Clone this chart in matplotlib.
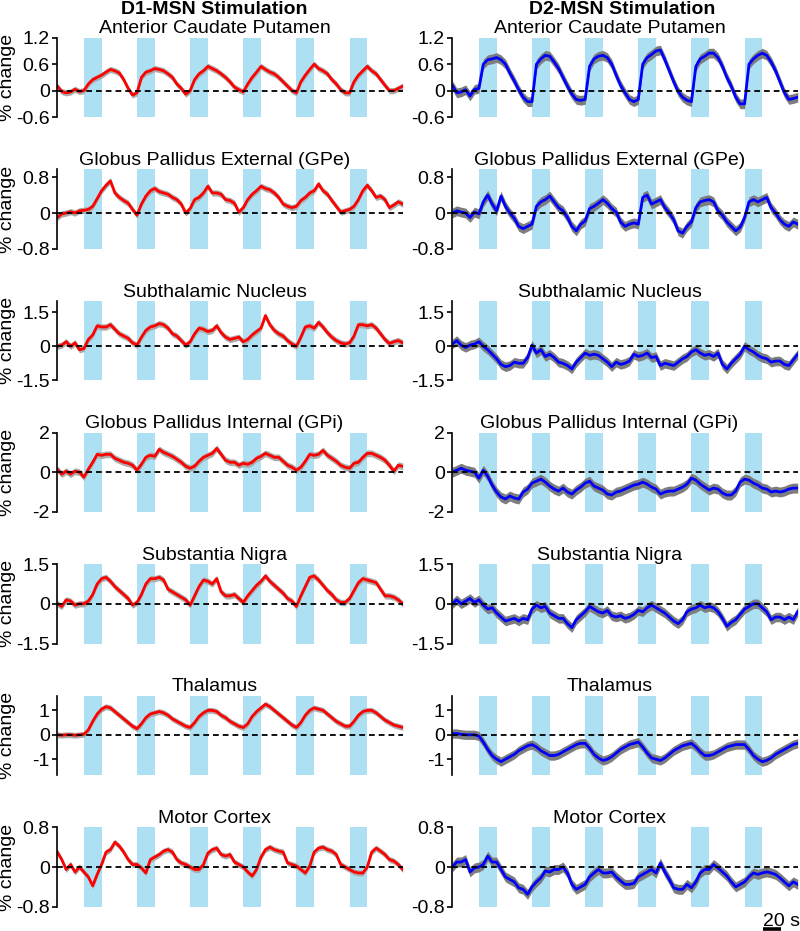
import numpy as np
import matplotlib
matplotlib.use('Agg')
import matplotlib.pyplot as plt
import matplotlib.transforms as mtransforms

plt.rcParams['font.family'] = ['Liberation Sans', 'DejaVu Sans']
plt.rcParams['axes.unicode_minus'] = False

# time axis in seconds, one value every 5 s
time = list(range(-30, 365, 5))
stimOnsets = [0, 60, 120, 180, 240, 300]
stimLength = 20

regions = ['Anterior Caudate Putamen', 'Globus Pallidus External (GPe)', 'Subthalamic Nucleus',
           'Globus Pallidus Internal (GPi)', 'Substantia Nigra', 'Thalamus', 'Motor Cortex']
yTicks = [[-0.6, 0, 0.6, 1.2], [-0.8, 0, 0.8], [-1.5, 0, 1.5], [-2, 0, 2],
          [-1.5, 0, 1.5], [-1, 0, 1], [-0.8, 0, 0.8]]
yTickLabels = [['-0.6', '0', '0.6', '1.2'], ['-0.8', '0', '0.8'], ['-1.5', '0', '1.5'], ['-2', '0', '2'],
               ['-1.5', '0', '1.5'], ['-1', '0', '1'], ['-0.8', '0', '0.8']]
yLimits = [(-0.6, 1.2), (-0.8, 0.98), (-1.5, 2.0), (-2, 2), (-1.5, 1.5), (-1.65, 1.6), (-0.8, 0.8)]

d1Acp = [0.1, -0.02, -0.05, -0.03, 0.03, -0.02, 0.0, 0.15, 0.25, 0.3,
         0.35, 0.42, 0.48, 0.45, 0.4, 0.25, 0.05, -0.1, -0.05, 0.3,
         0.42, 0.45, 0.5, 0.48, 0.45, 0.38, 0.3, 0.15, 0.05, -0.08,
         0.0, 0.25, 0.38, 0.45, 0.55, 0.5, 0.45, 0.38, 0.3, 0.2,
         0.08, 0.02, -0.03, 0.15, 0.3, 0.42, 0.55, 0.48, 0.42, 0.38,
         0.3, 0.2, 0.1, 0.0, -0.05, 0.2, 0.35, 0.48, 0.6, 0.5,
         0.45, 0.38, 0.25, 0.15, 0.02, -0.05, -0.05, 0.2, 0.35, 0.45,
         0.55, 0.45, 0.38, 0.25, 0.12, 0.0, 0.0, 0.05, 0.1]
d2Acp = [0.12, -0.05, -0.03, 0.02, -0.12, 0.03, 0.05, 0.6, 0.7, 0.72,
         0.75, 0.7, 0.6, 0.4, 0.22, 0.02, -0.15, -0.25, -0.25, 0.6,
         0.72, 0.8, 0.78, 0.65, 0.5, 0.3, 0.1, -0.08, -0.2, -0.22,
         -0.2, 0.55, 0.72, 0.78, 0.8, 0.75, 0.6, 0.35, 0.12, -0.05,
         -0.2, -0.25, -0.2, 0.6, 0.75, 0.82, 0.9, 0.92, 0.7, 0.45,
         0.2, -0.02, -0.15, -0.22, -0.25, 0.55, 0.72, 0.78, 0.85, 0.85,
         0.75, 0.55, 0.3, 0.1, -0.15, -0.3, -0.3, 0.6, 0.72, 0.8,
         0.85, 0.8, 0.65, 0.45, 0.2, -0.05, -0.2, -0.18, -0.15]
d1Gpe = [-0.1, -0.02, 0.0, 0.03, 0.0, 0.05, 0.06, 0.08, 0.15, 0.32,
         0.5, 0.62, 0.72, 0.45, 0.35, 0.28, 0.22, 0.08, -0.05, 0.2,
         0.38, 0.5, 0.55, 0.48, 0.45, 0.42, 0.35, 0.3, 0.2, 0.0,
         0.1, 0.3, 0.35, 0.45, 0.6, 0.45, 0.45, 0.42, 0.3, 0.28,
         0.22, 0.02, 0.12, 0.3, 0.42, 0.5, 0.6, 0.55, 0.52, 0.45,
         0.35, 0.2, 0.15, 0.12, 0.15, 0.28, 0.35, 0.45, 0.5, 0.65,
         0.5, 0.42, 0.28, 0.15, 0.02, 0.05, 0.08, 0.15, 0.3, 0.5,
         0.62, 0.5, 0.35, 0.38, 0.3, 0.12, 0.18, 0.25, 0.2]
d2Gpe = [0.0, 0.05, 0.02, 0.0, -0.1, 0.02, -0.02, 0.25, 0.4, 0.2,
         0.05, 0.38, 0.15, 0.0, -0.12, -0.3, -0.35, -0.3, -0.25, 0.15,
         0.25, 0.3, 0.38, 0.25, 0.12, 0.05, -0.1, -0.3, -0.4, -0.25,
         -0.18, 0.1, 0.15, 0.22, 0.3, 0.22, 0.1, 0.02, -0.2, -0.3,
         -0.25, -0.22, -0.25, 0.35, 0.4, 0.2, 0.25, 0.3, 0.12, 0.0,
         -0.15, -0.4, -0.45, -0.3, -0.2, 0.12, 0.25, 0.28, 0.3, 0.25,
         0.05, -0.05, -0.2, -0.3, -0.4, -0.32, -0.1, 0.25, 0.3, 0.25,
         0.3, 0.35, 0.12, 0.0, -0.15, -0.25, -0.3, -0.2, -0.25]
d1Stn = [0.0, 0.05, 0.2, 0.0, 0.15, -0.15, -0.1, 0.3, 0.5, 0.9,
         0.85, 0.85, 0.95, 0.75, 0.55, 0.45, 0.35, 0.15, 0.05, 0.4,
         0.7, 0.85, 0.9, 1.0, 0.95, 0.8, 0.55, 0.45, 0.25, 0.05,
         0.2, 0.55, 0.8, 0.75, 0.65, 0.7, 0.9, 0.6, 0.4, 0.3,
         0.35, 0.4, 0.2, 0.3, 0.5, 0.65, 0.8, 1.35, 0.95, 0.7,
         0.55, 0.45, 0.25, 0.1, 0.0, 0.4, 0.85, 0.9, 0.8, 1.05,
         0.85, 0.6, 0.4, 0.25, 0.15, 0.1, 0.15, 0.45, 0.95, 0.95,
         0.9, 0.95, 0.8, 0.55, 0.3, 0.12, 0.2, 0.25, 0.15]
d2Stn = [0.1, 0.25, 0.05, -0.05, 0.05, 0.1, 0.2, 0.0, -0.15, -0.35,
         -0.55, -0.8, -0.9, -0.85, -0.7, -0.75, -0.75, -0.5, 0.05, -0.3,
         -0.15, -0.45, -0.35, -0.5, -0.7, -0.75, -0.85, -1.0, -0.7, -0.5,
         -0.3, -0.4, -0.35, -0.4, -0.55, -0.7, -0.9, -0.7, -0.8, -0.75,
         -0.65, -0.35, -0.45, -0.4, -0.3, -0.5, -0.45, -0.85, -0.75, -0.8,
         -0.85, -0.7, -0.55, -0.45, -0.25, -0.15, -0.3, -0.4, -0.35, -0.45,
         -0.3, -0.8, -1.0, -0.75, -0.55, -0.35, 0.0, -0.15, -0.25, -0.4,
         -0.5, -0.55, -0.7, -0.65, -0.65, -0.8, -0.85, -0.6, -0.35]
d1Gpi = [0.15, -0.1, 0.05, -0.1, 0.05, 0.0, -0.25, 0.15, 0.5, 0.9,
         0.85, 0.9, 0.9, 0.7, 0.6, 0.5, 0.45, 0.35, 0.1, 0.4,
         0.75, 0.85, 0.8, 1.15, 1.0, 0.9, 0.8, 0.65, 0.5, 0.3,
         0.2, 0.3, 0.55, 0.75, 0.85, 0.95, 1.2, 0.9, 0.6, 0.5,
         0.5, 0.35, 0.45, 0.4, 0.5, 0.7, 0.8, 0.95, 0.85, 0.75,
         0.75, 0.55, 0.35, 0.25, 0.1, 0.25, 0.55, 0.9, 0.85, 0.9,
         1.1, 0.85, 0.7, 0.55, 0.35, 0.25, 0.2, 0.45, 0.5, 0.75,
         0.95, 0.95, 0.85, 0.75, 0.6, 0.35, 0.05, 0.35, 0.3]
d2Gpi = [0.0, 0.1, 0.2, 0.1, 0.05, 0.0, -0.3, 0.1, -0.2, -0.65,
         -1.0, -1.25, -1.35, -1.2, -1.3, -1.35, -1.0, -0.85, -0.55, -0.45,
         -0.35, -0.5, -0.7, -0.85, -0.95, -0.8, -1.0, -1.1, -0.9, -0.75,
         -0.55, -0.45, -0.7, -0.8, -0.9, -1.1, -1.15, -1.0, -0.95, -0.85,
         -0.75, -0.65, -0.6, -0.5, -0.6, -0.75, -0.85, -1.1, -1.0, -0.95,
         -0.95, -0.85, -0.75, -0.6, -0.3, -0.4, -0.6, -0.75, -0.9, -0.8,
         -0.85, -1.05, -1.15, -1.15, -0.95, -0.5, -0.35, -0.4, -0.55, -0.65,
         -0.8, -0.85, -1.0, -0.95, -1.0, -0.95, -0.85, -0.8, -0.8]
d1Sn = [0.0, -0.1, 0.15, 0.1, -0.05, 0.0, 0.0, 0.1, 0.35, 0.75,
        0.95, 1.0, 0.85, 0.65, 0.5, 0.35, 0.2, -0.05, 0.05, 0.35,
        0.75, 0.95, 0.95, 1.0, 0.9, 0.55, 0.45, 0.35, 0.25, 0.15,
        -0.05, 0.3, 0.65, 0.9, 0.85, 0.75, 0.95, 0.45, 0.3, 0.3,
        0.35, 0.2, 0.05, 0.3, 0.5, 0.7, 0.85, 1.05, 0.85, 0.7,
        0.55, 0.4, 0.2, 0.1, -0.1, 0.3, 0.65, 1.0, 1.05, 0.9,
        0.7, 0.5, 0.35, 0.15, 0.05, 0.05, 0.2, 0.5, 0.8, 0.95,
        0.9, 0.85, 0.8, 0.55, 0.3, 0.3, 0.25, 0.15, 0.0]
d2Sn = [0.0, 0.15, 0.0, 0.1, 0.2, 0.05, 0.15, -0.05, -0.2, -0.15,
        -0.35, -0.5, -0.65, -0.6, -0.55, -0.65, -0.55, -0.6, -0.2, -0.05,
        -0.15, -0.1, -0.35, -0.45, -0.55, -0.55, -0.75, -0.9, -0.6, -0.45,
        -0.3, -0.1, -0.2, -0.3, -0.35, -0.25, -0.45, -0.5, -0.45, -0.55,
        -0.5, -0.4, -0.25, -0.3, -0.15, -0.05, -0.15, -0.25, -0.35, -0.5,
        -0.65, -0.75, -0.6, -0.3, -0.2, -0.15, -0.05, -0.15, -0.1, -0.15,
        -0.3, -0.55, -0.85, -0.7, -0.6, -0.4, -0.2, -0.1, 0.0, 0.0,
        -0.15, -0.3, -0.6, -0.5, -0.5, -0.6, -0.5, -0.6, -0.3]
d1Thal = [0.0, -0.02, 0.0, 0.0, -0.02, 0.0, 0.02, 0.2, 0.55, 0.85,
          1.05, 1.15, 1.1, 0.95, 0.8, 0.65, 0.5, 0.35, 0.25, 0.45,
          0.7, 0.85, 0.9, 0.95, 0.9, 0.8, 0.65, 0.55, 0.45, 0.35,
          0.3, 0.5, 0.75, 0.9, 1.0, 1.0, 0.95, 0.8, 0.7, 0.55,
          0.45, 0.35, 0.3, 0.45, 0.75, 0.95, 1.1, 1.25, 1.15, 1.0,
          0.85, 0.7, 0.55, 0.4, 0.3, 0.5, 0.8, 1.0, 1.1, 1.05,
          1.0, 0.85, 0.7, 0.55, 0.45, 0.35, 0.35, 0.55, 0.8, 0.95,
          1.0, 1.0, 0.9, 0.75, 0.6, 0.5, 0.4, 0.35, 0.3]
d2Thal = [0.05, 0.05, 0.02, 0.0, 0.0, 0.0, -0.05, -0.3, -0.6, -0.85,
          -1.0, -1.1, -1.0, -0.9, -0.8, -0.65, -0.55, -0.45, -0.4, -0.5,
          -0.65, -0.75, -0.85, -0.85, -0.8, -0.7, -0.6, -0.5, -0.4, -0.35,
          -0.35, -0.55, -0.8, -0.95, -1.05, -1.0, -0.9, -0.75, -0.6, -0.5,
          -0.4, -0.35, -0.3, -0.5, -0.75, -0.95, -1.0, -1.05, -0.95, -0.8,
          -0.65, -0.55, -0.45, -0.4, -0.35, -0.5, -0.7, -0.85, -0.85, -0.8,
          -0.7, -0.6, -0.5, -0.45, -0.4, -0.4, -0.4, -0.6, -0.85, -1.0,
          -1.1, -1.05, -0.95, -0.8, -0.7, -0.6, -0.5, -0.4, -0.35]
d1Motor = [0.3, 0.15, -0.05, 0.05, -0.1, 0.0, -0.1, -0.2, -0.38, -0.15,
           0.05, 0.3, 0.35, 0.5, 0.42, 0.3, 0.15, 0.05, 0.05, -0.02,
           -0.12, 0.15, 0.2, 0.25, 0.32, 0.35, 0.3, 0.15, 0.08, 0.05,
           0.0, -0.05, -0.05, 0.05, 0.28, 0.35, 0.38, 0.25, 0.22, 0.25,
           0.1, 0.05, 0.0, -0.1, -0.18, -0.05, 0.2, 0.35, 0.4, 0.35,
           0.32, 0.3, 0.08, 0.05, 0.02, -0.05, -0.12, 0.02, 0.3, 0.38,
           0.4, 0.35, 0.32, 0.25, 0.05, 0.0, -0.05, -0.1, -0.12, -0.12,
           0.0, 0.3, 0.38, 0.32, 0.25, 0.15, 0.12, 0.05, -0.05]
d2Motor = [0.0, 0.1, 0.1, 0.15, -0.1, -0.02, 0.0, 0.05, 0.22, 0.1,
           0.1, -0.05, -0.2, -0.25, -0.3, -0.42, -0.45, -0.55, -0.4, -0.3,
           -0.22, -0.08, -0.1, -0.05, -0.05, 0.0, -0.12, -0.35, -0.45, -0.4,
           -0.35, -0.2, -0.12, -0.05, -0.12, -0.12, -0.1, -0.2, -0.28, -0.35,
           -0.35, -0.33, -0.2, -0.15, -0.1, -0.05, -0.12, 0.08, -0.1, -0.25,
           -0.42, -0.45, -0.45, -0.35, -0.42, -0.3, -0.12, -0.05, -0.05, 0.05,
           -0.02, -0.1, -0.18, -0.3, -0.4, -0.35, -0.3, -0.2, -0.12, -0.15,
           -0.12, -0.1, -0.12, -0.15, -0.22, -0.3, -0.38, -0.3, -0.35]

d1Traces = [d1Acp, d1Gpe, d1Stn, d1Gpi, d1Sn, d1Thal, d1Motor]
d2Traces = [d2Acp, d2Gpe, d2Stn, d2Gpi, d2Sn, d2Thal, d2Motor]
d1Sem = [0.07, 0.07, 0.14, 0.17, 0.12, 0.12, 0.06]
d2Sem = [0.11, 0.11, 0.21, 0.25, 0.18, 0.19, 0.1]

columns = [('D1-MSN Stimulation', d1Traces, d1Sem, 'red', '#ababab'),
           ('D2-MSN Stimulation', d2Traces, d2Sem, 'blue', '#7d7d7d')]

W, H = 800, 931
fig = plt.figure(figsize=(W / 100, H / 100), dpi=100)


def pxBox(x, y, w, h):
    return [x / W, 1 - (y + h) / H, w / W, h / H]


axLeft = [57.3, 452.3]
axWidth = 345.4
axHeight = 79.4
firstTop = 37.7
rowStep = 131.6
headerX = [214, 622]

t = np.array(time)
for c, (header, traces, sems, lineColor, bandColor) in enumerate(columns):
    fig.text(headerX[c] / W, 1 - 14 / H, header, fontsize=14, fontweight='bold',
             ha='center', va='baseline')
    for r in range(len(regions)):
        top = firstTop + r * rowStep
        ax = fig.add_axes(pxBox(axLeft[c], top, axWidth, axHeight))
        y = np.array(traces[r])
        for onset in stimOnsets:
            ax.axvspan(onset, onset + stimLength, color='#ade0f3', lw=0, zorder=0)
        ax.fill_between(t, y - sems[r], y + sems[r], color=bandColor, lw=0, zorder=1)
        ax.plot(t, y, color=lineColor, lw=2.0, zorder=2)
        ax.plot([t[0], t[-1]], [0, 0], color='black', lw=1.3, ls=(0, (3.2, 2.2)), zorder=3)
        ax.set_xlim(t[0], t[-1])
        ax.set_ylim(*yLimits[r])
        for side in ['top', 'right', 'bottom']:
            ax.spines[side].set_visible(False)
        ax.spines['left'].set_linewidth(1.2)
        ax.set_xticks([])
        ax.set_yticks(yTicks[r])
        ax.set_yticklabels(yTickLabels[r])
        ax.tick_params(axis='y', direction='out', length=3.5, width=1.2, pad=2, labelsize=14)
        ax.patch.set_alpha(0)

        fig.text((axLeft[c] + 0.455 * axWidth) / W, 1 - (top - 4.3) / H, regions[r],
                 fontsize=14, ha='center', va='baseline')
        if c == 0:
            fig.text(8 / W, 1 - (top + axHeight / 2) / H, '% change', fontsize=14,
                     rotation=90, ha='center', va='center')

# 20 s scale bar under the last panel
trans = mtransforms.blended_transform_factory(ax.transData, ax.transAxes)
ax.plot([321, 341], [-0.285, -0.285], color='black', lw=2.6, transform=trans,
        clip_on=False, solid_capstyle='butt')
ax.text(320.5, -0.245, '20 s', fontsize=14, ha='left', va='baseline', transform=trans)

fig.savefig('out.png', dpi=100)
